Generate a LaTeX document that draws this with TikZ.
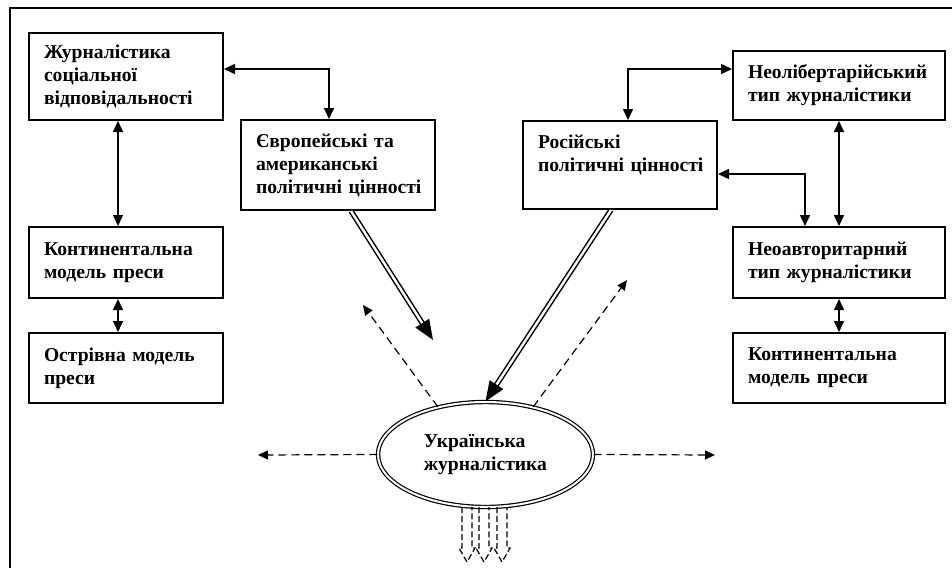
\documentclass[tikz,border=0pt]{standalone}
\usepackage{fontspec}
\setmainfont{Liberation Serif}
\usepackage{tikz}
\usetikzlibrary{positioning}
\usetikzlibrary{arrows.meta,shapes}

\begin{document}
\begin{tikzpicture}[x=0.5pt,y=-0.5pt,
    box/.style={draw,line width=1pt,anchor=north west,align=left,inner xsep=7.5pt,
      font=\fontsize{9.8}{11.5}\selectfont\bfseries},
    lbox/.style={box,text width=82pt,minimum width=97pt},
    rbox/.style={box,text width=91pt,minimum width=106pt},
    link/.style={line width=0.75pt,{Triangle[length=5.5pt,width=5pt]}-{Triangle[length=5.5pt,width=5pt]}},
    flow/.style={double,line width=0.75pt,double distance=1.2pt,-{Triangle[length=10pt,width=8pt]}},
    spread/.style={line width=0.6pt,dash pattern=on 4pt off 2.5pt,-{Triangle[length=5pt,width=4.5pt]}},
    root/.style={line width=0.6pt,dash pattern=on 3pt off 1.5pt}]
    \useasboundingbox (0,0) rectangle (952,568);
    \draw[line width=1pt] (952,8) -- (10,8) -- (10,568);

    % left column
    \node[lbox,minimum height=43.5pt] (jsv) at (28,32) {Журналістика\\соціальної\\відповідальності};
    \node[lbox,minimum height=35.5pt] (kmpl) at (28,226) {Континентальна\\модель преси};
    \node[lbox,minimum height=35pt] (omp) at (28,332) {Острівна~модель\\преси};
    \node[lbox,minimum height=45pt] (eav) at (240,119) {Європейські~та\\американські\\політичні~цінності};

    % right column
    \node[lbox,minimum height=44pt] (rpc) at (522,120) {Російські\\політичні~цінності\\\mbox{}};
    \node[rbox,minimum height=34.5pt] (nlt) at (732,50) {Неолібертарійський\\тип журналістики};
    \node[rbox,minimum height=35.5pt] (nat) at (732,226) {Неоавторитарний\\тип журналістики};
    \node[rbox,minimum height=35pt] (kmpr) at (732,332) {Континентальна\\модель преси};

    \node[draw,ellipse,double,line width=0.6pt,double distance=1pt,
      minimum width=107.5pt,minimum height=52.5pt,align=left,
      font=\fontsize{9.8}{11.5}\selectfont\bfseries] (ukr) at (485.5,454.5) {Українська\\журналістика};

    \draw[link] ([yshift=3.75pt]jsv.east) -| ([xshift=-4.5pt]eav.north);
    \draw[link] ([xshift=-4pt]jsv.south) -- ([xshift=-4pt]kmpl.north);
    \draw[link] ([xshift=-4pt]kmpl.south) -- ([xshift=-4pt]omp.north);
    \draw[link] ([yshift=8.25pt]nlt.west) -| ([xshift=4pt]rpc.north);
    \draw[link] (nlt.south) -- (nat.north);
    \draw[link] ([yshift=-4.5pt]rpc.east) -| ([xshift=-17pt]nat.north);
    \draw[link] (nat.south) -- (kmpr.north);

    \coordinate (eavtip) at (433,340);
    \draw[flow] ([xshift=6.5pt]eav.south) -- (eavtip);
    \draw[flow] ([xshift=-4.5pt]rpc.south) -- (ukr.north);

    \coordinate (nwend) at (363,305);
    \coordinate (neend) at (627,280);
    \coordinate (wend) at (258,455);
    \coordinate (eend) at (715,455);
    \draw[spread] (ukr.135) -- (nwend);
    \draw[spread] (ukr.45) -- (neend);
    \draw[spread] (ukr.west) -- (wend);
    \draw[spread] (ukr.east) -- (eend);

    % roots under the ellipse
    \foreach \x in {462,479,497}
      \draw[root] (\x,507) -- (\x,548) -- (\x-3,548) -- (\x+5,562) -- (\x+13,548) -- (\x+10,548) -- (\x+10,507);
  \end{tikzpicture}
\end{document}
